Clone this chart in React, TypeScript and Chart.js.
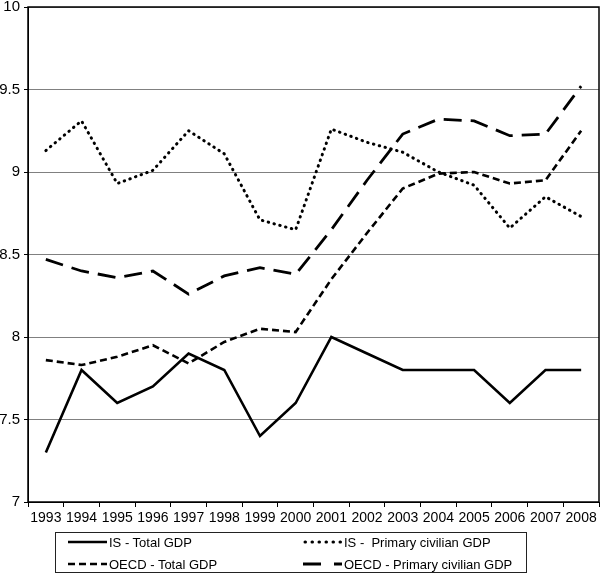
import React, { useEffect, useRef } from "react";
import { Chart, registerables } from "chart.js";

Chart.register(...registerables);

const years = ["1993","1994","1995","1996","1997","1998","1999","2000","2001","2002","2003","2004","2005","2006","2007","2008"];
const isTotal = [7.3, 7.8, 7.6, 7.7, 7.9, 7.8, 7.4, 7.6, 8.0, 7.9, 7.8, 7.8, 7.8, 7.6, 7.8, 7.8];
const isPrimary = [9.13, 9.31, 8.93, 9.01, 9.25, 9.11, 8.71, 8.65, 9.26, 9.18, 9.12, 9.0, 8.92, 8.66, 8.85, 8.73];
const oecdTotal = [7.86, 7.83, 7.88, 7.95, 7.84, 7.97, 8.05, 8.03, 8.35, 8.63, 8.9, 8.99, 9.0, 8.93, 8.95, 9.25];
const oecdPrimary = [8.47, 8.4, 8.36, 8.4, 8.26, 8.37, 8.42, 8.38, 8.65, 8.95, 9.23, 9.32, 9.31, 9.22, 9.23, 9.52];
const yMin = 7;
const yMax = 10;
const yStep = 0.5;

const seriesLabels = ["IS - Total GDP", "IS -  Primary civilian GDP", "OECD - Total GDP", "OECD - Primary civilian GDP"];

const FONT = "'Liberation Sans', Arial, sans-serif";

const boxPlugin = {
  id: "boxPlugin",
  afterDatasetsDraw(chart: any) {
    const { ctx, chartArea } = chart;
    ctx.save();
    ctx.strokeStyle = "#000";
    ctx.lineWidth = 1.5;
    ctx.strokeRect(chartArea.left, chartArea.top, chartArea.right - chartArea.left, chartArea.bottom - chartArea.top);
    ctx.restore();
  },
};

export default function App() {
  const ref = useRef<HTMLCanvasElement | null>(null);
  useEffect(() => {
    if (!ref.current) return;
    const chart = new Chart(ref.current, {
      type: "line",
      data: {
        labels: years,
        datasets: [
          { label: seriesLabels[0], data: isTotal, borderColor: "#000", borderWidth: 2.6, pointRadius: 0, tension: 0, borderJoinStyle: "miter" },
          { label: seriesLabels[1], data: isPrimary, borderColor: "#000", borderWidth: 3, borderDash: [0.5, 5.5], borderCapStyle: "round", pointRadius: 0, tension: 0 },
          { label: seriesLabels[2], data: oecdTotal, borderColor: "#000", borderWidth: 2.6, borderDash: [7, 4], pointRadius: 0, tension: 0 },
          { label: seriesLabels[3], data: oecdPrimary, borderColor: "#000", borderWidth: 2.8, borderDash: [18, 9], pointRadius: 0, tension: 0 },
        ],
      },
      options: {
        animation: false,
        responsive: false,
        devicePixelRatio: 1,
        layout: { padding: { top: 0, right: 1, left: 0, bottom: 0 } },
        plugins: { legend: { display: false }, tooltip: { enabled: false } },
        scales: {
          x: {
            offset: true,
            afterFit: (axis: any) => { axis.height = 71; },
            grid: { drawOnChartArea: false, drawTicks: true, tickLength: 5, color: "#000", offset: true },
            border: { display: true, color: "#000", width: 1 },
            ticks: { color: "#000", font: { family: FONT, size: 14 }, padding: 3, maxRotation: 0, autoSkip: false },
          },
          y: {
            min: yMin,
            max: yMax,
            afterFit: (axis: any) => { axis.width = 28; axis.paddingTop = 7; },
            grid: { color: "#808080", lineWidth: 1, tickLength: 4, tickColor: "#000" },
            border: { display: true, color: "#000", width: 1 },
            ticks: { stepSize: yStep, color: "#000", font: { family: FONT, size: 15, lineHeight: 1 }, padding: 4, callback: (v: any) => String(Number(v)) },
          },
        },
      },
      plugins: [boxPlugin],
    } as any);
    return () => chart.destroy();
  }, []);

  const item = (x: number, y: number, text: string, dash: string, width: number, cap: string) => (
    <div style={{ position: "absolute", left: x, top: y - 9, height: 18, display: "flex", alignItems: "center", whiteSpace: "pre", font: `13px ${FONT}`, color: "#000" }}>
      <svg width={40} height={8} style={{ display: "block" }}>
        <line x1={cap === "round" ? 2 : 0} y1={4} x2={cap === "round" ? 38 : 39} y2={4} stroke="#000" strokeWidth={width} strokeDasharray={dash} strokeLinecap={cap as any} />
      </svg>
      <span style={{ marginLeft: 1 }}>{text}</span>
    </div>
  );

  return (
    <div style={{ position: "fixed", left: 0, top: 0, width: 600, height: 573, background: "#fff" }}>
      <canvas ref={ref} width={600} height={573} style={{ position: "absolute", left: 0, top: 0 }} />
      <div style={{ position: "absolute", left: 55, top: 532, width: 470, height: 39, border: "1px solid #222" }} />
      {item(68, 542, seriesLabels[0], "none", 2.6, "butt")}
      {item(303, 542, seriesLabels[1], "0.5 6.5", 3, "round")}
      {item(68, 564, seriesLabels[2], "7 4", 2.6, "butt")}
      {item(303, 564, seriesLabels[3], "18 13", 2.8, "butt")}
    </div>
  );
}
